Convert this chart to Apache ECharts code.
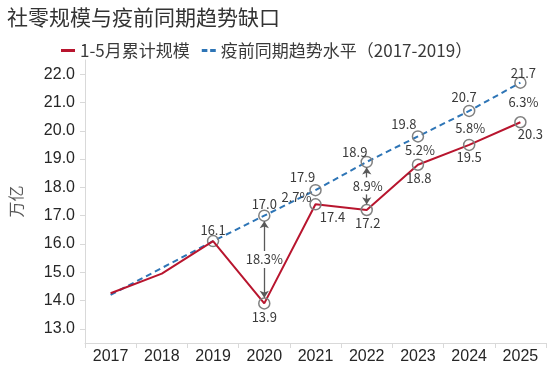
<!DOCTYPE html>
<html><head><meta charset="utf-8">
<script src="https://cdn.jsdelivr.net/npm/echarts@6/dist/echarts.min.js"></script>
<style>html,body{margin:0;padding:0;background:#fff}#c{width:550px;height:368px}</style>
</head><body><div id="c"></div>
<script>
// ---- data ----
const years = ['2017','2018','2019','2020','2021','2022','2023','2024','2025'];
const actual = [14.26, 14.95, 16.1, 13.9, 17.4, 17.2, 18.8, 19.5, 20.3];
const trend  = [14.2, 15.15, 16.1, 17.0, 17.9, 18.9, 19.8, 20.7, 21.7];
const actualText = [null, null, null, '13.9', '17.4', '17.2', '18.8', '19.5', '20.3'];
const trendText  = [null, null, '16.1', '17.0', '17.9', '18.9', '19.8', '20.7', '21.7'];
const gapText    = [null, null, null, '18.3%', '2.7%', '8.9%', '5.2%', '5.8%', '6.3%'];
const arrowYears = ['2020', '2022'];
const yTicks = [13, 14, 15, 16, 17, 18, 19, 20, 21, 22];
const seriesNames = ['1-5月累计规模', '疫前同期趋势水平（2017-2019）'];

// ---- styles ----
const RED = '#B8152E', BLUE = '#2E75B6', GRAY = '#808080', TXT = '#3a3a3a';
const CJK = '"Noto Sans CJK SC", "Noto Sans", sans-serif';
const NUM = '"Liberation Sans", Arial, sans-serif';
const trendOffset  = [[0,0],[0,0],[0,-11],[0,-12],[-13,-13],[-12,-10],[-14,-12],[-5,-14],[3,-10]];
const actualOffset = [[0,0],[0,0],[0,0],[0,14],[17,13],[1,13],[1,13],[0,12],[10,12]];
const gapOffset    = [[0,0],[0,0],[0,0],[0,0],[-19,0],[1,0],[2,0],[1,0],[3,0]];
const labelPad = 0.3, pointPad = 0.2;

const labelStyle = { color: TXT, fontSize: 13, fontFamily: CJK };
const markerStyle = { color: 'transparent', borderColor: GRAY, borderWidth: 1.5 };

function pointItems(vals, texts, offsets, firstMarked) {
  return vals.map((v, i) => {
    const item = { value: v };
    if (i < firstMarked) { item.symbol = 'none'; }
    if (texts[i]) {
      item.label = Object.assign({ show: true, position: 'inside', offset: offsets[i], formatter: texts[i] }, labelStyle);
    }
    return item;
  });
}

const gapItems = [];
years.forEach((y, i) => {
  if (gapText[i]) gapItems.push({
    value: [i, (actual[i] + trend[i]) / 2],
    label: Object.assign({ show: true, position: 'inside', offset: gapOffset[i], formatter: gapText[i] }, labelStyle)
  });
});

const arrows = [];
arrowYears.forEach(y => {
  const i = years.indexOf(y);
  const mid = (actual[i] + trend[i]) / 2;
  arrows.push([{ coord: [i, mid + labelPad] }, { coord: [i, trend[i] - pointPad] }]);
  arrows.push([{ coord: [i, mid - labelPad] }, { coord: [i, actual[i] + pointPad] }]);
});

const chart = echarts.init(document.getElementById('c'), null, { renderer: 'canvas' });
chart.setOption({
  animation: false,
  backgroundColor: '#fff',
  title: {
    text: '社零规模与疫前同期趋势缺口', left: 2, top: 2,
    textStyle: { fontSize: 21, fontWeight: 'normal', color: '#333', fontFamily: CJK }
  },
  legend: {
    left: 56, top: 37, itemWidth: 14, itemHeight: 3, itemGap: 12,
    textStyle: { fontSize: 17, color: TXT, fontFamily: CJK },
    data: [
      { name: seriesNames[0], icon: 'rect', itemStyle: { color: RED, borderWidth: 0 } },
      { name: seriesNames[1], icon: 'path://M0,0H4V2H0Z M6,0H10V2H6Z', itemStyle: { color: BLUE, borderWidth: 0 } }
    ]
  },
  grid: { left: 78, right: 4, top: 60, bottom: 25, containLabel: false },
  xAxis: {
    type: 'category', data: years, boundaryGap: true,
    axisLine: { lineStyle: { color: '#d9d9d9' } },
    axisTick: { show: true, lineStyle: { color: '#d9d9d9' } },
    axisLabel: { color: '#262626', fontSize: 16, fontFamily: NUM, margin: 6 }
  },
  yAxis: {
    type: 'value', min: 12.5, max: 22.5,
    name: '万亿', nameLocation: 'middle', nameRotate: 90, nameGap: 61,
    nameTextStyle: { color: '#595959', fontSize: 16, fontFamily: CJK },
    axisLine: { show: true, lineStyle: { color: '#d9d9d9' } },
    axisTick: { show: true, customValues: yTicks, lineStyle: { color: '#d9d9d9' } },
    axisLabel: { customValues: yTicks, color: '#262626', fontSize: 16, fontFamily: NUM, margin: 10,
      formatter: v => v.toFixed(1) },
    splitLine: { show: false }
  },
  series: [
    {
      name: seriesNames[0], type: 'line', z: 3,
      data: pointItems(actual, actualText, actualOffset, 3),
      symbol: 'circle', symbolSize: 11, showAllSymbol: true,
      lineStyle: { color: RED, width: 2 },
      itemStyle: markerStyle,
      label: labelStyle
    },
    {
      name: seriesNames[1], type: 'line', z: 2,
      data: pointItems(trend, trendText, trendOffset, 2),
      symbol: 'circle', symbolSize: 11, showAllSymbol: true,
      lineStyle: { color: BLUE, width: 2, type: [6, 4] },
      itemStyle: markerStyle,
      label: labelStyle
    },
    {
      name: 'gap', type: 'scatter', symbol: 'circle', symbolSize: 2, z: 4, silent: true,
      itemStyle: { color: 'rgba(0,0,0,0)', opacity: 1 },
      data: gapItems,
      label: Object.assign({ show: true }, labelStyle),
      markLine: {
        silent: true, symbol: ['none', 'arrow'], symbolSize: 7,
        label: { show: false },
        lineStyle: { color: '#595959', width: 1.3, type: 'solid' },
        emphasis: { disabled: true },
        data: arrows
      }
    }
  ]
});
</script></body></html>
